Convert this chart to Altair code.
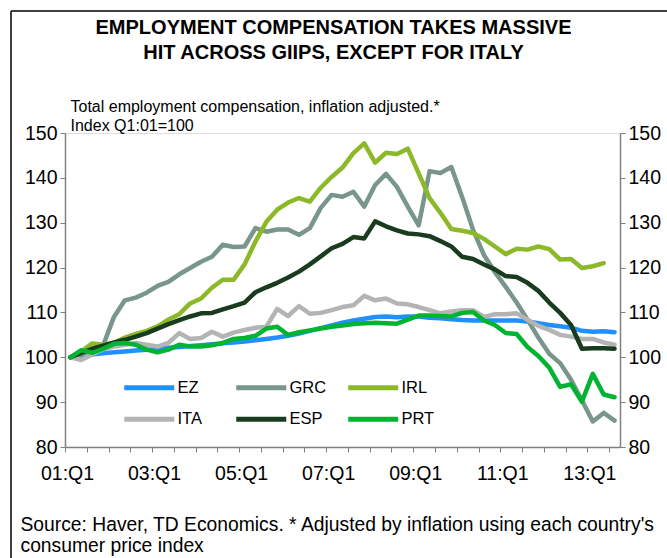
import altair as alt
import pandas as pd

FONT = "Liberation Sans"

series = ["EZ", "GRC", "IRL", "ITA", "ESP", "PRT"]
colors = ["#1E90FF", "#78968A", "#8CB928", "#B4B4B4", "#193C1E", "#00B432"]

# 2001Q1 .. 2013Q3 (51 quarters)
quarters = [f"{2001 + k // 4}Q{k % 4 + 1}" for k in range(51)]
tick_labels = ["01:Q1", "03:Q1", "05:Q1", "07:Q1", "09:Q1", "11:Q1", "13:Q1"]

ez = [100, 100.3, 100.6, 100.9, 101.1, 101.3, 101.5, 101.7, 101.9, 102.1,
      102.3, 102.5, 102.7, 102.9, 103.1, 103.3, 103.5, 103.8, 104.1, 104.4,
      104.8, 105.3, 105.9, 106.5, 107.1, 107.7, 108.2, 108.6, 109.0, 109.1,
      108.9, 109.1, 109.1, 108.8, 108.7, 108.5, 108.3, 108.2, 108.2, 108.2,
      108.2, 108.2, 108.0, 107.6, 107.2, 106.9, 106.6, 105.9, 105.7, 105.8,
      105.6]
grc = [100, 100.6, 101.6, 102.6, 109.0, 112.7, 113.3, 114.4, 115.9, 116.8,
       118.5, 119.9, 121.3, 122.4, 125.1, 124.6, 124.7, 128.8, 128.0, 128.5,
       128.5, 127.3, 128.8, 133.3, 136.2, 135.8, 136.9, 133.6, 138.4, 140.9,
       138.0, 133.6, 129.4, 141.5, 141.1, 142.4, 135.7, 128.4, 122.8, 119.0,
       115.7, 112.2, 108.4, 104.4, 100.8, 98.7, 95.0, 90.4, 85.7, 87.6,
       85.9]
irl = [100, 101.3, 103.1, 102.8, 103.2, 104.4, 105.2, 105.9, 106.9, 108.4,
       109.6, 112.0, 113.1, 115.5, 117.3, 117.3, 120.7, 125.8, 130.2, 132.9,
       134.5, 135.5, 134.7, 137.8, 140.2, 142.3, 145.5, 147.7, 143.4, 145.6,
       145.3, 146.5, 141.0, 135.5, 132.2, 128.6, 128.2, 127.7, 126.4, 124.7,
       123.0, 124.2, 124.0, 124.7, 124.1, 121.8, 121.9, 119.9, 120.3, 121.0,
       None]
ita = [100, 99.4, 100.6, 101.8, 102.4, 102.8, 103.2, 102.8, 102.4, 103.2,
       105.4, 104.1, 104.3, 105.7, 104.6, 105.5, 106.1, 106.6, 106.8, 110.8,
       109.2, 111.4, 109.7, 109.9, 110.5, 111.2, 111.6, 113.7, 112.7, 113.1,
       112.0, 111.8, 111.2, 110.5, 109.8, 110.2, 110.5, 110.5, 109.0, 109.6,
       109.6, 109.8, 108.4, 107.0, 106.1, 105.0, 104.6, 104.1, 104.1, 103.3,
       102.8]
esp = [100, 101.0, 101.9, 102.6, 103.3, 103.9, 104.6, 105.4, 106.4, 107.4,
       108.3, 109.1, 109.8, 109.9, 110.7, 111.4, 112.2, 114.5, 115.6, 116.6,
       117.8, 119.1, 120.7, 122.5, 124.3, 125.3, 126.8, 126.5, 130.3, 129.2,
       128.3, 127.6, 127.4, 127.0, 125.9, 124.7, 122.4, 121.9, 120.7, 119.6,
       118.1, 117.9, 116.6, 114.8, 112.2, 109.9, 107.2, 101.9, 102.0, 102.0,
       101.9]
prt = [100, 101.6, 101.0, 101.9, 103.0, 103.2, 102.8, 101.7, 101.1, 101.7,
       102.8, 102.4, 102.4, 102.7, 103.2, 104.1, 104.3, 104.8, 106.4, 106.8,
       105.0, 105.6, 106.0, 106.4, 106.8, 107.1, 107.4, 107.6, 107.7, 107.6,
       107.5, 108.4, 109.3, 109.3, 109.2, 109.1, 109.9, 110.1, 108.2, 107.2,
       105.4, 105.2, 102.3, 100.3, 97.7, 93.4, 94.0, 90.1, 96.3, 91.7,
       91.1]

rows = []
for name, vals in zip(series, [ez, grc, irl, ita, esp, prt]):
    for k, v in enumerate(vals):
        if v is not None:
            rows.append({"t": k, "q": quarters[k], "s": name, "v": v})
df = pd.DataFrame(rows)

label_js = "[" + ",".join(f"'{s}'" for s in tick_labels) + "]"
x_enc = alt.X(
    "t:Q",
    scale=alt.Scale(domain=[-0.5, 50.5], nice=False, zero=False),
    title=["Source: Haver, TD Economics. * Adjusted by inflation using each country's",
           "consumer price index"],
    axis=alt.Axis(
        values=[-0.5 + 2 * k for k in range(26)],
        labelExpr=f"(datum.value + 0.5) % 8 == 0 ? {label_js}[(datum.value + 0.5) / 8] : ''",
        labelOffset=2, labelFlush=False, labelOverlap=False,
        labelFontSize=19.5, labelFont=FONT, labelColor="#000000", labelPadding=12,
        tickSize=5, tickColor="#808080", domainColor="#808080", domainWidth=1.5,
        grid=False,
        titleFont=FONT, titleFontSize=19.3, titleFontWeight="normal", titleColor="#000000",
        titleAnchor="start", titleAlign="left", titleX=-45, titleY=83,
        titleBaseline="alphabetic", titleLineHeight=21,
    ),
)

y_scale = alt.Scale(domain=[80, 150], nice=False, zero=False)
y_vals = [80, 90, 100, 110, 120, 130, 140, 150]

lines = alt.Chart(df).mark_line(strokeWidth=4.5, strokeJoin="round", strokeCap="round").encode(
    x=x_enc,
    y=alt.Y("v:Q", scale=y_scale,
            title=["Total employment compensation, inflation adjusted.*", "Index Q1:01=100"],
            axis=alt.Axis(values=y_vals, orient="left", tickSize=5, tickColor="#808080",
                          domainColor="#808080", domainWidth=1.5, grid=False,
                          labelFontSize=19.5, labelFont=FONT, labelColor="#000000", labelPadding=3,
                          titleFont=FONT, titleFontSize=16, titleFontWeight="normal",
                          titleColor="#000000", titleAngle=0, titleAlign="left",
                          titleBaseline="alphabetic", titleX=5, titleY=-22,
                          titleLineHeight=19)),
    color=alt.Color("s:N", scale=alt.Scale(domain=series, range=colors),
                    legend=alt.Legend(title=None, orient="none", legendX=76, legendY=246,
                                      direction="horizontal", columns=3,
                                      symbolType="M-5,0H5", symbolSize=100,
                                      symbolStrokeWidth=5, symbolFillColor="transparent",
                                      labelFontSize=16.5, labelFont=FONT,
                                      labelColor="#000000", labelOffset=20, columnPadding=11,
                                      rowPadding=11, gridAlign="all", padding=0)),
    detail="s:N",
)

right = alt.Chart(df).mark_line(strokeOpacity=0).encode(
    x=x_enc,
    y=alt.Y("v:Q", scale=y_scale, title=None,
            axis=alt.Axis(values=y_vals, orient="right", tickSize=5, tickColor="#808080",
                          domainColor="#808080", domainWidth=1.5, grid=False,
                          labelFontSize=19.5, labelFont=FONT, labelColor="#000000",
                          labelPadding=3)),
    detail="s:N",
)

one = pd.DataFrame({"a": [0]})
border_v = alt.Chart(one).mark_rule(color="#000000", strokeWidth=1.5).encode(
    x=alt.value(-54), y=alt.value(-122), y2=alt.value(430))
border_h = alt.Chart(one).mark_rule(color="#000000", strokeWidth=1.5).encode(
    x=alt.value(-54), x2=alt.value(610), y=alt.value(-122))

chart = alt.layer(lines, right, border_v, border_h).resolve_axis(y="independent").properties(
    width=555, height=314,
    autosize=alt.AutoSizeParams(type="none"),
    padding={"left": 65, "top": 133, "right": 47, "bottom": 111},
    title=alt.TitleParams(["EMPLOYMENT COMPENSATION TAKES MASSIVE",
                           "HIT ACROSS GIIPS, EXCEPT FOR ITALY"],
                          font=FONT, fontSize=20, fontWeight="bold", color="#000000",
                          anchor="middle", dx=-9, dy=83, lineHeight=25, offset=30),
).configure_view(stroke=None).configure(background="#ffffff")

chart.save("out.html", embed_options={"renderer": "svg", "actions": False})
